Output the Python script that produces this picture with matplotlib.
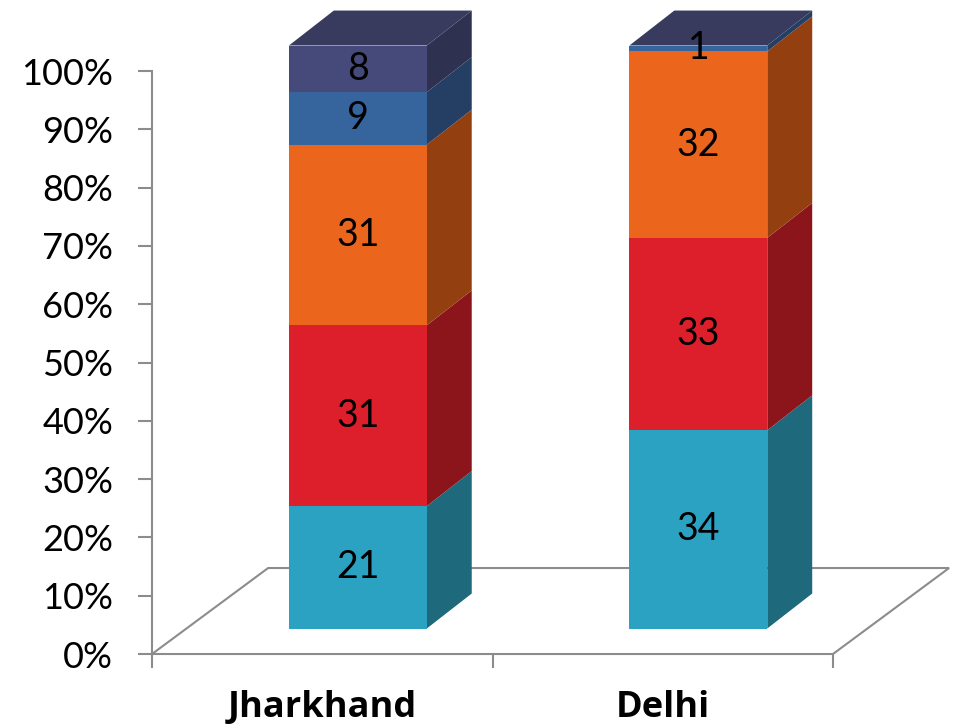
import numpy as np
import matplotlib.pyplot as plt
from matplotlib.patches import Polygon
from matplotlib.ticker import PercentFormatter

# data (percent shares, bottom to top)
states = ["Jharkhand", "Delhi"]
seg1 = [21, 34]
seg2 = [31, 33]
seg3 = [31, 32]
seg4 = [9, 1]
seg5 = [8, 0]
series = [seg1, seg2, seg3, seg4, seg5]

front_cols = ["#2CA2C2", "#DC1F2B", "#EB661C", "#36649D", "#464A7B"]
side_cols = ["#1E6A7C", "#8C151B", "#933F10", "#243F63", "#2E3150"]
top_col = "#393B5E"
grid_col = "#8C8C8C"
font = "Lato"

fig = plt.figure(figsize=(9.58, 7.27), dpi=100)
ax = fig.add_axes([0.1587, 0.1004, 0.7108, 0.8019])
ax.set_xlim(0, 2)
ax.set_ylim(0, 100)

# depth geometry (data units)
floor_dx, floor_dy = 0.341, 14.75
bar_dx, bar_dy = 0.132, 6.0
off_x = (floor_dx - bar_dx) / 2
off_y = (floor_dy - bar_dy) / 2
width = 0.405

# floor
floor = Polygon([(0, 0), (2, 0), (2 + floor_dx, floor_dy), (floor_dx, floor_dy)],
                closed=True, facecolor="white", edgecolor=grid_col, lw=1.5,
                clip_on=False, zorder=1)
ax.add_patch(floor)

xs = np.arange(len(states)) + 0.5
bottoms = np.zeros(len(states))
for vals, fc, sc in zip(series, front_cols, side_cols):
    vals = np.array(vals, dtype=float)
    ax.bar(xs + off_x, vals, bottom=bottoms + off_y, width=width,
           color=fc, clip_on=False, zorder=3)
    for x, b, v in zip(xs, bottoms, vals):
        if v <= 0:
            continue
        x1 = x + off_x + width / 2
        y0, y1 = b + off_y, b + v + off_y
        side = Polygon([(x1, y0), (x1 + bar_dx, y0 + bar_dy),
                        (x1 + bar_dx, y1 + bar_dy), (x1, y1)],
                       closed=True, facecolor=sc, edgecolor="none",
                       clip_on=False, zorder=2)
        ax.add_patch(side)
        ax.text(x + off_x, b + v / 2 + off_y, f"{int(v)}", ha="center",
                va="center", fontsize=27, family=font, color="black", zorder=5)
    bottoms = bottoms + vals

# top faces
for x, t in zip(xs, bottoms):
    x0 = x + off_x - width / 2
    x1 = x + off_x + width / 2
    y = t + off_y
    top = Polygon([(x0, y), (x0 + bar_dx, y + bar_dy),
                   (x1 + bar_dx, y + bar_dy), (x1, y)],
                  closed=True, facecolor=top_col, edgecolor="none",
                  clip_on=False, zorder=4)
    ax.add_patch(top)

# axes styling
for s in ["top", "right", "bottom"]:
    ax.spines[s].set_visible(False)
ax.spines["left"].set_color(grid_col)
ax.spines["left"].set_linewidth(1.5)
ax.set_yticks(np.arange(0, 101, 10))
ax.yaxis.set_major_formatter(PercentFormatter(decimals=0))
ax.tick_params(axis="y", length=10, width=1.5, color=grid_col, pad=18,
               labelsize=26)
ax.set_xticks(xs)
ax.set_xticklabels(states, fontsize=26, fontweight="bold", family="Open Sans")
ax.set_xticks([0, 1, 2], minor=True)
ax.tick_params(axis="x", which="major", length=0, pad=26)
ax.tick_params(axis="x", which="minor", length=10, width=1.5, color=grid_col,
               direction="out")
for lab in ax.get_yticklabels():
    lab.set_family(font)
ax.patch.set_visible(False)

fig.savefig("out.png", dpi=100)
